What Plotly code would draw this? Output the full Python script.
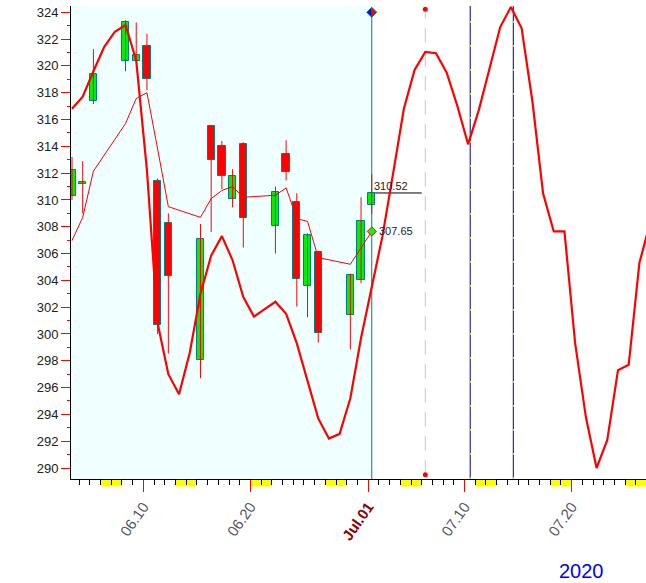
import datetime as dt
import plotly.graph_objects as go

# ---------------- data ----------------
candle_dates = ["2020-06-03", "2020-06-04", "2020-06-05", "2020-06-08", "2020-06-09",
                "2020-06-10", "2020-06-11", "2020-06-12", "2020-06-15", "2020-06-16",
                "2020-06-17", "2020-06-18", "2020-06-19", "2020-06-22", "2020-06-23",
                "2020-06-24", "2020-06-25", "2020-06-26", "2020-06-29", "2020-06-30",
                "2020-07-01"]
opens  = [310.3, 311.2, 317.35, 320.35, 320.4, 321.45, 311.45, 308.25, 298.05, 315.5,
          314.05, 310.1, 314.2, 308.05, 313.45, 309.85, 303.55, 306.1, 301.4, 304.05, 309.65]
highs  = [313.2, 312.9, 321.25, 323.4, 323.25, 322.4, 311.6, 309.0, 308.2, 315.6,
          314.4, 312.3, 314.3, 311.0, 314.45, 310.5, 307.5, 306.2, 304.5, 310.2, 311.9]
lows   = [310.0, 309.0, 317.15, 319.6, 320.3, 318.2, 300.0, 298.55, 296.7, 307.6,
          310.8, 309.45, 306.45, 306.0, 311.45, 302.05, 301.25, 299.35, 298.85, 303.8, 308.95]
closes = [312.2, 311.35, 319.4, 323.25, 320.8, 319.05, 300.7, 304.3, 307.05, 313.0,
          311.75, 311.8, 308.65, 310.6, 312.1, 304.1, 307.35, 300.1, 304.4, 308.4, 310.52]

# thin average line, one value per candle
avg_line = [306.97, 308.7, 312.15, 315.7, 317.57, 318.0, 313.8, 309.5, 308.7, 310.1,
            310.7, 311.0, 310.2, 310.35, 310.9, 308.6, 308.4, 305.7, 305.2, 306.45, 307.65]

# thick cycle line, one value per calendar day from 2020-06-03
cycle_start = "2020-06-03"
cycle_line = [316.8, 317.7, 319.6, 321.4, 322.55, 323.05, 320.4, 312.2, 300.8, 297.0,
              295.5, 298.6, 303.0, 305.85, 307.3, 305.5, 302.75, 301.3, 301.85, 302.4,
              301.5, 299.3, 296.5, 293.7, 292.2, 292.55, 295.2, 299.7, 303.5, 307.3,
              312.0, 316.8, 319.7, 321.05, 320.95, 319.5, 317.0, 314.15, 316.7, 319.9,
              322.9, 324.4, 322.8, 317.4, 310.5, 307.65, 307.65, 299.3, 293.8, 290.0,
              292.1, 297.3, 297.7, 305.3, 308.3]

last_close = 310.52
last_avg = 307.65
tick_dates = ["2020-06-10", "2020-06-20", "2020-07-01", "2020-07-10", "2020-07-20"]
tick_labels = ["06.10", "06.20", "<b><span style='color:#8B0000'>Jul.01</span></b>",
               "07.10", "07.20"]
y_ticks = list(range(290, 325, 2))
year_label = "2020"

# ---------------- helpers ----------------
OFF = dt.timedelta(hours=8)
def d(s):
    return dt.datetime.fromisoformat(s)

cx = [d(s) + OFF for s in candle_dates]
lx = [d(cycle_start) + dt.timedelta(days=i) + OFF for i in range(len(cycle_line))]
last_x = cx[-1]

FONT = "Arial, Liberation Sans, sans-serif"
fig = go.Figure()

# wicks
wx, wy = [], []
for x, h, l in zip(cx, highs, lows):
    wx += [x, x, None]
    wy += [l, h, None]
fig.add_trace(go.Scatter(x=wx, y=wy, mode="lines", line=dict(color="#FF0000", width=1),
                         hoverinfo="skip", showlegend=False, cliponaxis=False))

# bodies
base = [min(o, c) for o, c in zip(opens, closes)]
hgt = [max(abs(c - o), 0.15) for o, c in zip(opens, closes)]
cols = ["#00F000" if c >= o else "#FF0000" for o, c in zip(opens, closes)]
fig.add_trace(go.Bar(x=cx, y=hgt, base=base, width=0.68 * 86400000,
                     marker=dict(color=cols, line=dict(color="#008080", width=1)),
                     showlegend=False, hoverinfo="skip", cliponaxis=False))

# lines
fig.add_trace(go.Scatter(x=cx, y=avg_line, mode="lines",
                         line=dict(color="#FF0000", width=1), showlegend=False))
fig.add_trace(go.Scatter(x=lx, y=cycle_line, mode="lines",
                         line=dict(color="#FF0000", width=2.2), showlegend=False))
fig.add_trace(go.Scatter(x=[last_x], y=[last_avg], mode="markers",
                         marker=dict(symbol="diamond", size=7, color="#00FF00",
                                     line=dict(color="#FF0000", width=1)),
                         showlegend=False, cliponaxis=False))

grey_x = d("2020-07-06") + OFF
fig.add_trace(go.Scatter(x=[grey_x, grey_x], y=[324.22, 289.5], mode="markers",
                         marker=dict(size=5, color="#FF0000"), showlegend=False,
                         cliponaxis=False))

# ---------------- shapes ----------------
shapes = []
x_left = d("2020-07-01") - dt.timedelta(days=27.76)
x_right = d("2020-07-01") + dt.timedelta(days=25.95)

shapes.append(dict(type="rect", xref="x", yref="paper", x0=x_left, x1=last_x, y0=0, y1=1,
                   fillcolor="#F0FFFF", line=dict(width=0), layer="below"))
# weekends
day = d("2020-06-06")
while day < x_right:
    shapes.append(dict(type="rect", xref="x", yref="paper", x0=day,
                       x1=day + dt.timedelta(days=2), y0=-0.0157, y1=0,
                       fillcolor="#FFFF00", line=dict(width=0), layer="below"))
    day += dt.timedelta(days=7)

shapes.append(dict(type="line", xref="x", yref="paper", x0=last_x, x1=last_x, y0=0, y1=0.985,
                   line=dict(color="#008080", width=1), layer="below"))
shapes.append(dict(type="line", xref="x", yref="y", x0=grey_x, x1=grey_x, y0=289.5, y1=324.22,
                   line=dict(color="#C8C8C8", width=1, dash="15px,9px"), layer="below"))
for nx in [d("2020-07-10T12:40"), d("2020-07-14T13:20")]:
    shapes.append(dict(type="line", xref="x", yref="paper", x0=nx, x1=nx, y0=0, y1=1,
                       line=dict(color="#000080", width=1), layer="below"))
    shapes.append(dict(type="line", xref="x", yref="paper", x0=nx, x1=nx, y0=0, y1=1,
                       line=dict(color="#FFFF00", width=1, dash="2px,22px"), layer="below"))
shapes.append(dict(type="line", xref="x", yref="y", x0=last_x, x1=d("2020-07-06"),
                   y0=last_close, y1=last_close, line=dict(color="#000000", width=1),
                   layer="below"))
# top diamond (blue / red halves)
for path, col in [("M -5 0 L 0 5 L 0 -5 Z", "#0000FF"), ("M 5 0 L 0 5 L 0 -5 Z", "#FF0000")]:
    shapes.append(dict(type="path", xref="x", yref="y", xsizemode="pixel", ysizemode="pixel",
                       xanchor=last_x, yanchor=324.0, path=path, fillcolor=col,
                       line=dict(width=0), layer="above"))
shapes.append(dict(type="path", xref="x", yref="y", xsizemode="pixel", ysizemode="pixel",
                   xanchor=last_x, yanchor=324.0, path="M -5 0 L 0 5 L 5 0 L 0 -5 Z",
                   line=dict(color="#008080", width=1), layer="above"))

# ---------------- annotations ----------------
annotations = [
    dict(x=last_x, y=last_close, xref="x", yref="y", text=f"{last_close:.2f}",
         showarrow=False, xanchor="left", yanchor="bottom", xshift=0, yshift=-1,
         font=dict(family=FONT, size=11, color="#222222")),
    dict(x=last_x, y=last_avg, xref="x", yref="y", text=f"{last_avg:.2f}",
         showarrow=False, xanchor="left", yanchor="middle", xshift=5,
         font=dict(family=FONT, size=11, color="#222233")),
    dict(x=0.887, y=-0.1945, xref="paper", yref="paper", text=year_label, showarrow=False,
         xanchor="center", yanchor="middle", font=dict(family=FONT, size=20, color="#0000FF")),
]

fig.update_layout(
    width=646, height=583,
    margin=dict(l=71, r=0, t=6, b=104, autoexpand=False),
    paper_bgcolor="#FFFFFF", plot_bgcolor="#FFFFFF",
    showlegend=False, barmode="overlay", bargap=0,
    shapes=shapes, annotations=annotations,
    font=dict(family=FONT),
    xaxis=dict(type="date", range=[x_left, x_right], showgrid=False, zeroline=False,
               automargin=False,
               showline=True, linecolor="#000000", linewidth=1,
               tickmode="array", tickvals=[d(s) for s in tick_dates], ticktext=tick_labels,
               ticks="outside", ticklen=12, tickcolor="#FF0000", tickwidth=1,
               tickangle=-55, tickfont=dict(family=FONT, size=15, color="#555566"),
               minor=dict(dtick=86400000, tick0="2020-06-01", ticks="outside", ticklen=5,
                          tickcolor="#000000", showgrid=False),
               fixedrange=True),
    yaxis=dict(range=[289.18, 324.47], showgrid=False, zeroline=False,
               automargin=False,
               showline=True, linecolor="#000000", linewidth=1,
               tickmode="array", tickvals=y_ticks,
               ticks="outside", ticklen=9, tickcolor="#FF0000", tickwidth=1,
               tickfont=dict(family=FONT, size=13, color="#222222"),
               minor=dict(dtick=1, tick0=289, ticks="outside", ticklen=3,
                          tickcolor="#FF0000", showgrid=False),
               fixedrange=True),
)

fig.write_html("out.html", config={"displayModeBar": False},
               post_script="document.body.style.margin='0px';"
                           "document.body.style.overflow='hidden';")
